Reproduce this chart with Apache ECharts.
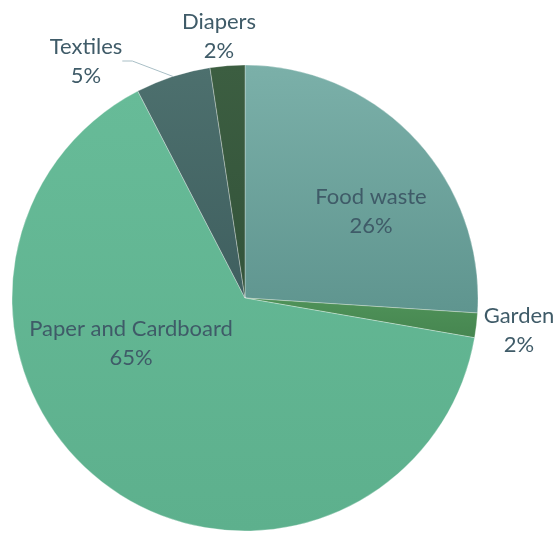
<!DOCTYPE html>
<html>
<head>
<meta charset="utf-8">
<script src="https://cdn.jsdelivr.net/npm/echarts@6/dist/echarts.min.js"></script>
<style>html,body{margin:0;padding:0;background:#fff;}#c{width:558px;height:533px;}</style>
</head>
<body>
<div id="c"></div>
<script>
const categories = ['Food waste', 'Garden', 'Paper and Cardboard', 'Textiles', 'Diapers'];
const values = [26.0, 1.7, 64.6, 5.2, 2.4];
const shownPercents = ['26%', '2%', '65%', '5%', '2%'];

const colorsTop = ['#7bb0a9', '#4f9259', '#67bb98', '#4d706e', '#3c5e41'];
const colorsBottom = ['#5f958f', '#468650', '#5db08d', '#3f5f5f', '#33533a'];
// label anchor positions (layout only)
const labelPos = [
  {x: 371, y: 211, show: false},
  {x: 519, y: 330, show: false},
  {x: 131, y: 343, show: false},
  {x: 86, y: 61, show: true},
  {x: 219, y: 36, show: false}
];

const chart = echarts.init(document.getElementById('c'), null, {renderer: 'canvas'});
const data = categories.map((name, i) => ({
  name: name,
  value: values[i],
  itemStyle: {
    color: new echarts.graphic.LinearGradient(0, 0, 0, 1, [
      {offset: 0, color: colorsTop[i]},
      {offset: 1, color: colorsBottom[i]}
    ])
  },
  label: {
    position: (i === 0 || i === 2) ? 'inside' : 'outside'
  },
  labelLine: {show: labelPos[i].show, lineStyle: {color: '#a9bfc6', width: 1}}
}));

chart.setOption({
  animation: false,
  series: [{
    type: 'pie',
    center: [245, 298],
    radius: 233,
    startAngle: 90,
    clockwise: true,
    avoidLabelOverlap: false,
    itemStyle: {borderColor: 'rgba(255,255,255,0.6)', borderWidth: 0.5},
    label: {
      show: true,
      fontFamily: 'Lato',
      fontSize: 22,
      lineHeight: 29,
      color: '#3f5b68',
      align: 'center',
      formatter: p => p.name + '\n' + shownPercents[p.dataIndex]
    },
    labelLine: {length: 20, length2: 10},
    labelLayout: function (params) {
      const p = labelPos[params.dataIndex];
      return {x: p.x, y: p.y, align: 'center', verticalAlign: 'middle'};
    },
    data: data
  }]
});
</script>
</body>
</html>
